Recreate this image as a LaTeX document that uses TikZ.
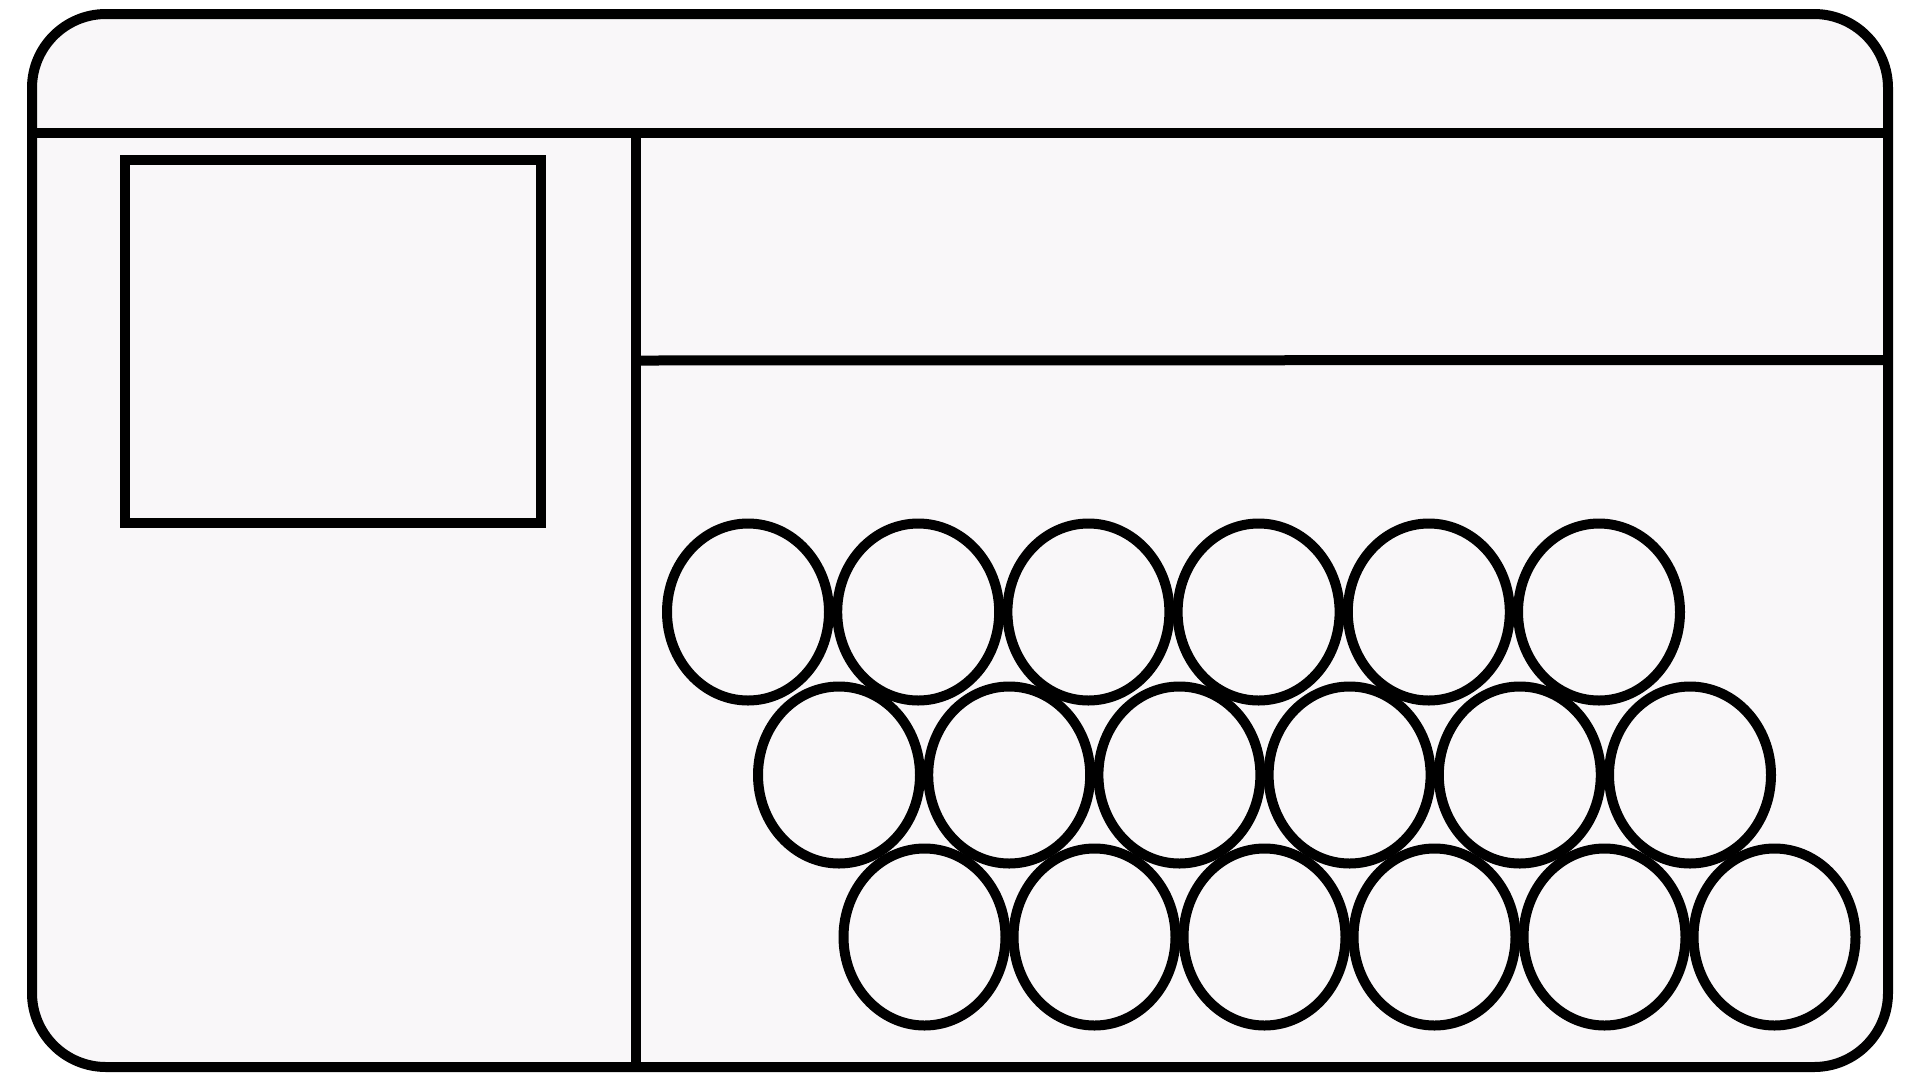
\documentclass[tikz,border=0pt]{standalone}
\usepackage{tikz}
\definecolor{panelfill}{RGB}{249,247,249}
\tikzset{
  ln/.style={line width=10pt, draw=black, line join=miter},
  egg/.style={line width=10pt, draw=black},
}
\begin{document}
\begin{tikzpicture}[x=1pt,y=-1pt]
\useasboundingbox (0,0) rectangle (1920,1080);
\fill[white] (0,0) rectangle (1920,1080);
% outer rounded frame
\draw[ln, fill=panelfill, rounded corners=74pt] (32,14) rectangle (1888,1067);
% header divider
\coordinate (hl) at (32,132.5);
\coordinate (hr) at (1888,132.5);
\draw[ln] (hl) -- (hr);
% vertical divider
\coordinate (vt) at (636,132.5);
\coordinate (vb) at (636,1067);
\draw[ln] (vt) -- (vb);
% right panel middle divider
\coordinate (ml) at (636,360.5);
\coordinate (mr) at (1888,360);
\draw[ln] (ml) -- (mr);
% right panel edges
\coordinate (rt) at (1888,132.5);
\coordinate (rb) at (1888,960);
\draw[ln] (rt) -- (rb);
\coordinate (bl) at (636,1067);
\coordinate (br) at (1750,1067);
\draw[ln] (bl) -- (br);
% left square
\draw[ln] (125,160) rectangle (541,523);
% eggs
\foreach \i in {0,...,5}{
  \draw[egg] (748+170.2*\i,612) ellipse [x radius=81, y radius=88.5];
  \draw[egg] (839+170.2*\i,775) ellipse [x radius=81, y radius=88.5];
  \draw[egg] (924.5+170*\i,937) ellipse [x radius=81, y radius=88.5];
}
\end{tikzpicture}
\end{document}
